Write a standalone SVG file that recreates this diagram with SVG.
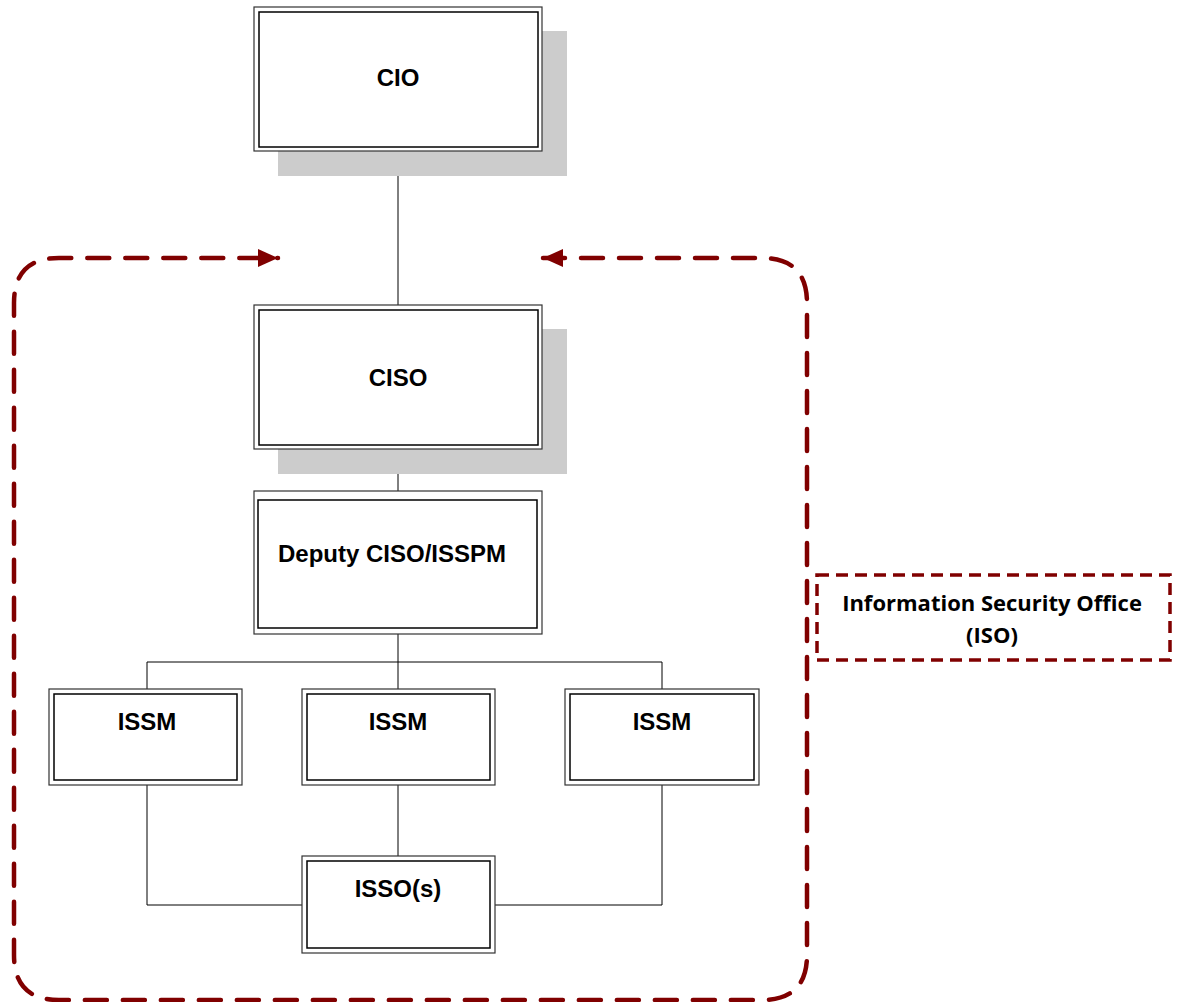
<svg xmlns="http://www.w3.org/2000/svg" width="1180" height="1002" viewBox="0 0 1180 1002">
<style>
.outer{fill:#fff;stroke:#333;stroke-width:1.2}
.inner{fill:none;stroke:#000;stroke-width:1.5}
.shadow{fill:#cccccc;stroke:none}
.lbl{font-family:"Liberation Sans",Arial,sans-serif;font-weight:bold;font-size:24px;fill:#000;text-anchor:middle}
.conn{fill:none;stroke:#000;stroke-width:1}
.red{fill:none;stroke:#800000;stroke-width:4.5;stroke-dasharray:22 16;stroke-linecap:round}
.iso{fill:none;stroke:#800000;stroke-width:3.5;stroke-dasharray:12 7}
.isot{font-family:"Open Sans","Liberation Sans",sans-serif;font-weight:bold;font-size:22px;fill:#000;text-anchor:middle}
</style>
<defs>
<marker id="ah" markerWidth="20" markerHeight="18" refX="20" refY="9" orient="auto-start-reverse" markerUnits="userSpaceOnUse">
<path d="M0,0 L20,9 L0,18 Z" fill="#800000"/>
</marker>
</defs>
<rect width="1180" height="1002" fill="#fff"/>
<g id="connectors">
<line class="conn" x1="398" y1="151" x2="398" y2="305"/>
<line class="conn" x1="398" y1="449" x2="398" y2="491"/>
<line class="conn" x1="398" y1="634" x2="398" y2="689"/>
<line class="conn" x1="147" y1="662" x2="662" y2="662"/>
<line class="conn" x1="147" y1="662" x2="147" y2="689"/>
<line class="conn" x1="662" y1="662" x2="662" y2="689"/>
<polyline class="conn" points="147,785 147,905 302,905"/>
<polyline class="conn" points="662,785 662,905 495,905"/>
<line class="conn" x1="398" y1="785" x2="398" y2="856"/>
</g>
<g id="iso-boundary">
<path class="red" d="M543,258 H762 Q807,258 807,303 V955 Q807,1000 762,1000 H59 Q14,1000 14,955 V303 Q14,258 59,258 H278" marker-start="url(#ah)" marker-end="url(#ah)"/>
</g>
<g id="cio">
<rect class="shadow" x="278" y="31" width="289" height="145"/>
<rect class="outer" x="254" y="7" width="288" height="144"/>
<rect class="inner" x="259" y="12" width="279" height="135"/>
<text class="lbl" x="398" y="86">CIO</text>
</g>
<g id="ciso">
<rect class="shadow" x="278" y="329" width="289" height="145"/>
<rect class="outer" x="254" y="305" width="288" height="144"/>
<rect class="inner" x="259" y="310" width="279" height="135"/>
<text class="lbl" x="398" y="386">CISO</text>
</g>
<g id="deputy">
<rect class="outer" x="254" y="491" width="288" height="143"/>
<rect class="inner" x="258" y="500" width="279" height="128"/>
<text class="lbl" x="392" y="562">Deputy CISO/ISSPM</text>
</g>
<g id="issm1">
<rect class="outer" x="49" y="689" width="193" height="96"/>
<rect class="inner" x="54" y="694" width="183" height="86"/>
<text class="lbl" x="147" y="730">ISSM</text>
</g>
<g id="issm2">
<rect class="outer" x="302" y="689" width="193" height="96"/>
<rect class="inner" x="307" y="694" width="183" height="86"/>
<text class="lbl" x="398" y="730">ISSM</text>
</g>
<g id="issm3">
<rect class="outer" x="565" y="689" width="194" height="96"/>
<rect class="inner" x="570" y="694" width="184" height="86"/>
<text class="lbl" x="662" y="730">ISSM</text>
</g>
<g id="isso">
<rect class="outer" x="302" y="856" width="193" height="97"/>
<rect class="inner" x="307" y="861" width="183" height="87"/>
<text class="lbl" x="398" y="897">ISSO(s)</text>
</g>
<g id="iso-label">
<rect class="iso" x="817" y="575" width="353" height="85"/>
<text class="isot" x="992" y="611">Information Security Office</text>
<text class="isot" x="992" y="643">(ISO)</text>
</g>
</svg>
